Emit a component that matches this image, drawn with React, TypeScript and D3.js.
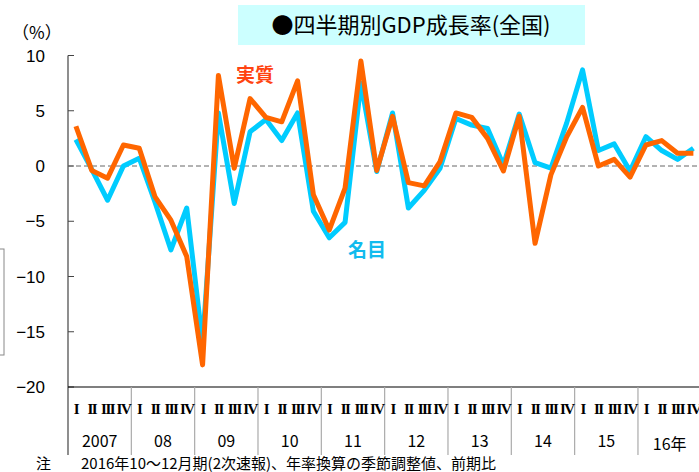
import React, { useEffect, useRef } from 'react';
import * as d3 from 'd3';

// 2007 Q1 .. 2016 Q4, annualised q/q %
const years = ['2007', '08', '09', '10', '11', '12', '13', '14', '15', '16年'];
const quarterLabels = ['I', 'II', 'III', 'IV'];
const real = [
  3.6, -0.4, -1.1, 1.9,
  1.6, -2.8, -4.9, -8.2,
  -18.0, 8.2, -0.2, 6.1,
  4.4, 4.0, 7.7, -2.6,
  -5.8, -2.0, 9.5, -0.4,
  4.5, -1.5, -1.8, 0.4,
  4.8, 4.4, 2.5, -0.45,
  4.5, -7.0, -0.8, 2.65,
  5.3, 0.0, 0.6, -1.0,
  1.9, 2.3, 1.15, 1.15,
];
const nominal = [
  2.4, -0.3, -3.1, 0.0,
  0.7, -3.3, -7.6, -3.8,
  -16.0, 4.8, -3.4, 3.1,
  4.2, 2.3, 4.8, -4.1,
  -6.5, -5.1, 7.5, -0.5,
  4.8, -3.8, -2.2, -0.2,
  4.3, 3.7, 3.4, 0.1,
  4.7, 0.3, -0.2, 3.9,
  8.7, 1.4, 2.0, -0.45,
  2.65, 1.4, 0.6, 1.6,
];
const yTicks = [10, 5, 0, -5, -10, -15, -20];

const App = () => {
  const ref = useRef<SVGSVGElement>(null);

  useEffect(() => {
    const svg = d3.select(ref.current);
    svg.selectAll('*').remove();

    const left = 68, yearW = 63.33;
    const n = real.length;
    const x = d3.scaleLinear().domain([0, n]).range([left, left + yearW * 10]);
    const y = d3.scaleLinear().domain([-20, 10]).range([387, 55.5]);
    const sans = 'Liberation Sans, Arial, sans-serif';
    const jp = '"Noto Sans CJK JP", sans-serif';

    // title
    svg.append('rect').attr('x', 238).attr('y', 5).attr('width', 347).attr('height', 40).attr('fill', '#ccffff');
    svg.append('text').attr('x', 411).attr('y', 33).attr('text-anchor', 'middle')
      .style('font-family', jp).style('font-size', '22px').attr('fill', '#000')
      .text('●四半期別GDP成長率(全国)');

    svg.append('text').attr('x', 12).attr('y', 39).style('font-family', jp).style('font-size', '17px')
      .text('（%）');

    // left partial box
    svg.append('rect').attr('x', -10).attr('y', 249).attr('width', 14).attr('height', 106)
      .attr('fill', 'none').attr('stroke', '#888');

    // y axis
    svg.append('line').attr('x1', left).attr('x2', left).attr('y1', y(10)).attr('y2', 455)
      .attr('stroke', '#444').attr('stroke-width', 1.2);
    svg.selectAll('.tick').data(yTicks).join('line')
      .attr('x1', left).attr('x2', left + 6).attr('y1', d => y(d)).attr('y2', d => y(d))
      .attr('stroke', '#444');
    svg.selectAll('.ylab').data(yTicks).join('text')
      .attr('x', 45).attr('y', d => y(d) + 6).attr('text-anchor', 'end')
      .style('font-family', sans).style('font-size', '17px')
      .text(d => (d < 0 ? '−' + Math.abs(d) : String(d)));

    // zero line
    svg.append('line').attr('x1', left).attr('x2', 699).attr('y1', y(0)).attr('y2', y(0))
      .attr('stroke', '#666').attr('stroke-dasharray', '5,3');

    // x axis
    svg.append('line').attr('x1', left).attr('x2', 699).attr('y1', y(-20)).attr('y2', y(-20))
      .attr('stroke', '#000').attr('stroke-width', 1.2);
    svg.selectAll('.div').data(d3.range(1, 11)).join('line')
      .attr('x1', d => x(d * 4)).attr('x2', d => x(d * 4)).attr('y1', y(-20)).attr('y2', 455)
      .attr('stroke', '#aaa').attr('stroke-width', 1.2);
    svg.selectAll('.q').data(d3.range(n)).join('text')
      .attr('x', d => x(d + 0.5)).attr('y', 414).attr('text-anchor', 'middle')
      .style('font-family', '"Liberation Serif", serif').style('font-size', '15px').style('font-weight', 'bold')
      .style('letter-spacing', '-1.5px')
      .text(d => quarterLabels[d % 4]);
    svg.selectAll('.yr').data(years).join('text')
      .attr('x', (d, i) => x(i * 4 + 2)).attr('y', (d, i) => (i === 9 ? 450 : 447)).attr('text-anchor', 'middle')
      .style('font-family', jp).style('font-size', '16px')
      .text(d => d);

    // lines
    const line = d3.line<number>().x((d, i) => x(i + 0.5)).y(d => y(d));
    svg.append('path').datum(nominal).attr('d', line).attr('fill', 'none')
      .attr('stroke', '#00ccff').attr('stroke-width', 5).attr('stroke-linejoin', 'round');
    svg.append('path').datum(real).attr('d', line).attr('fill', 'none')
      .attr('stroke', '#ff6600').attr('stroke-width', 5).attr('stroke-linejoin', 'round');

    svg.append('text').attr('x', 236).attr('y', 82).style('font-family', jp).style('font-size', '19px')
      .style('font-weight', 'bold').attr('fill', '#ff4411').text('実質');
    svg.append('text').attr('x', 348).attr('y', 257).style('font-family', jp).style('font-size', '19px')
      .style('font-weight', 'bold').attr('fill', '#11bbee').text('名目');

    // note
    svg.append('text').attr('x', 36).attr('y', 469).style('font-family', jp).style('font-size', '15px')
      .text('注　　2016年10～12月期(2次速報)、年率換算の季節調整値、前期比');
  }, []);

  return <svg ref={ref} width={699} height={472} style={{ position: 'absolute', left: 0, top: 0, background: '#fff' }} />;
};

export default App;
